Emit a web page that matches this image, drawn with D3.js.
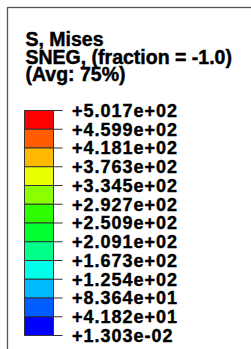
<!DOCTYPE html>
<html>
<head>
<meta charset="utf-8">
<script src="https://cdn.jsdelivr.net/npm/d3@7"></script>
<style>
	html, body { margin: 0; padding: 0; background: #fff; }
	svg { display: block; }
</style>
</head>
<body>
<div id="chart"></div>
<script>
//	标题行
const titleLines = ['S, Mises', 'SNEG, (fraction = -1.0)', '(Avg: 75%)'];
//	刻度值（从上到下）
const tickLabels = [
	'+5.017e+02', '+4.599e+02', '+4.181e+02', '+3.763e+02', '+3.345e+02',
	'+2.927e+02', '+2.509e+02', '+2.091e+02', '+1.673e+02', '+1.254e+02',
	'+8.364e+01', '+4.182e+01', '+1.303e-02'
];
//	色块颜色（从上到下）
const bandColors = [
	'#ff0000', '#ff5d00', '#ffb900', '#e8ff00', '#8bff00', '#2eff00',
	'#00ff2e', '#00ff8b', '#00ffe8', '#00b9ff', '#005dff', '#0000ff'
];

const width = 251, height = 349;

const svg = d3.select('#chart')
	.append('svg')
	.attr('width', width)
	.attr('height', height);

//	外框
svg.append('rect')
	.attr('x', 7.5)
	.attr('y', 7.5)
	.attr('width', width)
	.attr('height', height)
	.style('fill', 'none')
	.attr('stroke', '#555')
	.style('stroke-width', 1.3);

//	标题
svg.selectAll('text.title')
	.data(titleLines)
	.enter()
	.append('text')
	.attr('class', 'title')
	.attr('x', 25.5)
	.attr('y', (d, i) => 45.6 + i * 17.9)
	.style('font-family', '"Liberation Sans", Arial, sans-serif')
	.style('font-weight', 'bold')
	.style('font-size', '19.5px')
	.style('fill', '#000')
	.style('stroke', '#000')
	.style('stroke-width', 0.45)
	.text(d => d);

//	刻度位置
const y = d3.scaleLinear()
	.domain([0, bandColors.length])
	.range([110.5, 335.5]);

const barX = 24.5, barW = 29, tickEnd = 62.5;

//	色块
svg.selectAll('rect.band')
	.data(bandColors)
	.enter()
	.append('rect')
	.attr('class', 'band')
	.attr('x', barX)
	.attr('y', (d, i) => y(i))
	.attr('width', barW)
	.attr('height', (d, i) => y(i + 1) - y(i))
	.style('fill', d => d)
	.attr('stroke', '#333')
	.style('stroke-width', 1);

//	刻度线
svg.selectAll('line.tick')
	.data(tickLabels)
	.enter()
	.append('line')
	.attr('class', 'tick')
	.attr('x1', barX + barW)
	.attr('x2', tickEnd)
	.attr('y1', (d, i) => y(i))
	.attr('y2', (d, i) => y(i))
	.attr('stroke', '#333')
	.style('stroke-width', 1);

//	刻度文字
svg.selectAll('text.label')
	.data(tickLabels)
	.enter()
	.append('text')
	.attr('class', 'label')
	.attr('x', 72)
	.attr('y', (d, i) => y(i) + 6.4)
	.style('font-family', '"Liberation Sans", Arial, sans-serif')
	.style('font-weight', 'bold')
	.style('font-size', '18px')
	.style('letter-spacing', '1px')
	.style('fill', '#000')
	.style('stroke', '#000')
	.style('stroke-width', 0.4)
	.text(d => d);
</script>
</body>
</html>
